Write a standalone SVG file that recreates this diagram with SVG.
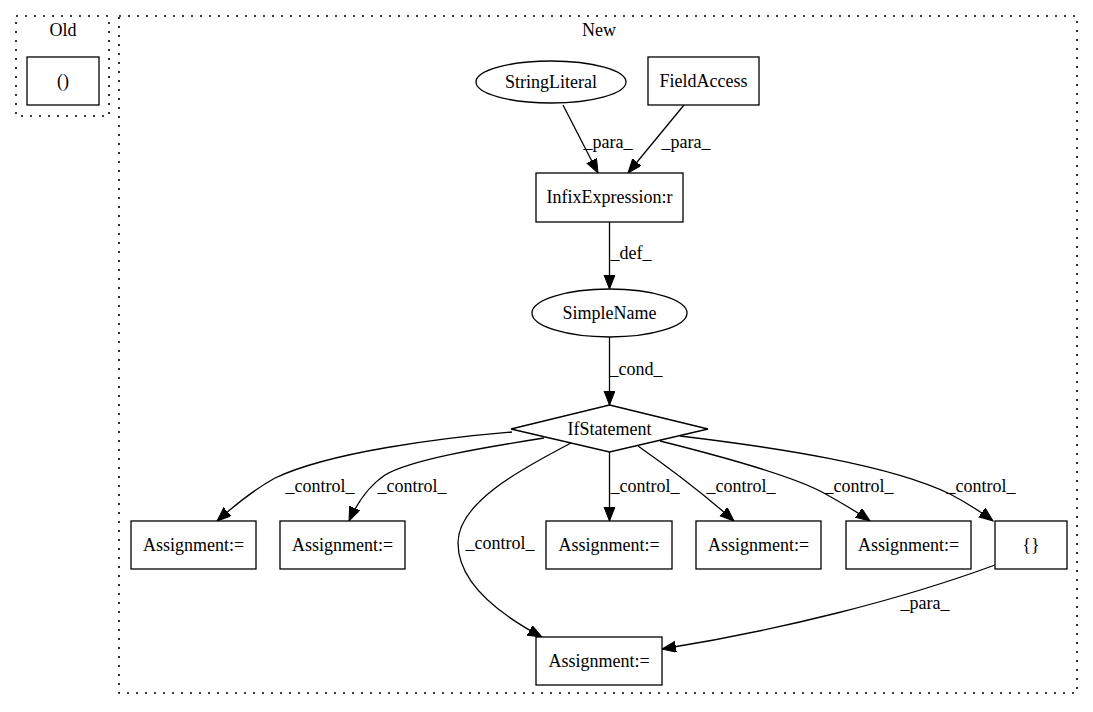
<svg xmlns="http://www.w3.org/2000/svg" width="1093" height="712" viewBox="0 0 1093 712">
<style>
text{font-family:"Liberation Serif","Times New Roman",serif;font-size:18px;fill:#000;text-anchor:middle}
.cl{fill:none;stroke:#000;stroke-width:1.6;stroke-dasharray:2,7}
.nd{fill:#fff;stroke:#000;stroke-width:1.3}
.ed{fill:none;stroke:#000;stroke-width:1.3;marker-end:url(#ah)}
</style>
<defs>
<marker id="ah" markerUnits="userSpaceOnUse" markerWidth="16" markerHeight="12" refX="14" refY="5.5" orient="auto">
<path d="M0,0 L14,5.5 L0,11 z" fill="#000" stroke="#000" stroke-width="1"/>
</marker>
</defs>
<rect width="1093" height="712" fill="#fff"/>
<g id="cluster-old">
<rect class="cl" x="16" y="16" width="93" height="100"/>
<text x="63" y="36">Old</text>
</g>
<g id="cluster-new">
<rect class="cl" x="119" y="16" width="958" height="677"/>
<text x="599" y="36">New</text>
</g>
<g id="edges">
<path class="ed" d="M563,105 L598,173"/>
<text x="608" y="148">_para_</text>
<path class="ed" d="M684,105 L628,173"/>
<text x="686" y="148">_para_</text>
<path class="ed" d="M609.5,222 L609.5,289"/>
<text x="631" y="259">_def_</text>
<path class="ed" d="M609.5,337 L609.5,405"/>
<text x="636" y="375">_cond_</text>
<path class="ed" d="M512,432 C440,438 330,452 275,478 C255,489 235,505 217,521"/>
<text x="320" y="492">_control_</text>
<path class="ed" d="M544,438 C480,448 410,460 385,475 C370,485 357,503 349,521"/>
<text x="412" y="492">_control_</text>
<path class="ed" d="M571,443 C530,465 458,500 458,543 C458,580 495,612 542,637"/>
<text x="500" y="549">_control_</text>
<path class="ed" d="M609.5,452 L609.5,521"/>
<text x="645" y="492">_control_</text>
<path class="ed" d="M638,446 C665,465 705,495 734,521"/>
<text x="741" y="492">_control_</text>
<path class="ed" d="M660,441 C720,456 790,475 822,492 C840,502 856,511 870,521"/>
<text x="859" y="492">_control_</text>
<path class="ed" d="M680,436 C780,448 890,465 950,494 C965,502 980,511 993,521"/>
<text x="981" y="492">_control_</text>
<path class="ed" d="M995,565 C900,600 780,630 662,649"/>
<text x="925" y="609">_para_</text>
</g>
<g id="n-old-paren">
<rect class="nd" x="27" y="57" width="72" height="48"/>
<text x="63" y="87">()</text>
</g>
<g id="n-stringliteral">
<ellipse class="nd" cx="551" cy="82" rx="75" ry="21"/>
<text x="551" y="88">StringLiteral</text>
</g>
<g id="n-fieldaccess">
<rect class="nd" x="648" y="57" width="111" height="48"/>
<text x="703.5" y="87">FieldAccess</text>
</g>
<g id="n-infix">
<rect class="nd" x="536" y="173" width="147" height="49"/>
<text x="609.5" y="203">InfixExpression:r</text>
</g>
<g id="n-simplename">
<ellipse class="nd" cx="609.5" cy="313" rx="77.5" ry="24"/>
<text x="609.5" y="319">SimpleName</text>
</g>
<g id="n-if">
<polygon class="nd" points="609.5,405 708,429 609.5,452 511,429"/>
<text x="609.5" y="435">IfStatement</text>
</g>
<g id="n-a1">
<rect class="nd" x="131" y="521" width="125" height="48"/>
<text x="193.5" y="551">Assignment:=</text>
</g>
<g id="n-a2">
<rect class="nd" x="280" y="521" width="125" height="48"/>
<text x="342.5" y="551">Assignment:=</text>
</g>
<g id="n-a3">
<rect class="nd" x="546" y="521" width="126" height="48"/>
<text x="609" y="551">Assignment:=</text>
</g>
<g id="n-a4">
<rect class="nd" x="696" y="521" width="125" height="48"/>
<text x="758.5" y="551">Assignment:=</text>
</g>
<g id="n-a5">
<rect class="nd" x="846" y="521" width="125" height="48"/>
<text x="908.5" y="551">Assignment:=</text>
</g>
<g id="n-braces">
<rect class="nd" x="995" y="521" width="72" height="48"/>
<text x="1031" y="551">{}</text>
</g>
<g id="n-a6">
<rect class="nd" x="536" y="637" width="126" height="48"/>
<text x="599" y="667">Assignment:=</text>
</g>
</svg>
